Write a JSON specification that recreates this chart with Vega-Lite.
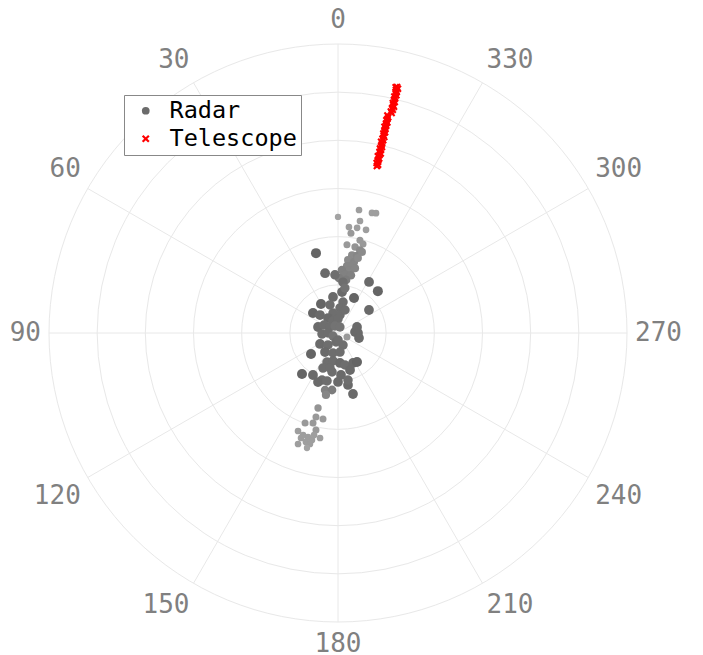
{
  "$schema": "https://vega.github.io/schema/vega-lite/v6.json",
  "width": 578,
  "height": 578,
  "autosize": "none",
  "padding": {"left": 49, "top": 44, "right": 76, "bottom": 33},
  "background": "#ffffff",
  "config": {"view": {"stroke": null}},
  "resolve": {"scale": {"size": "independent"}},
  "datasets": {
    "rings": [{"r": 10}, {"r": 20}, {"r": 30}, {"r": 40}, {"r": 50}, {"r": 60}],
    "angles": [{"angle": 0}, {"angle": 30}, {"angle": 60}, {"angle": 90}, {"angle": 120}, {"angle": 150}, {"angle": 180}, {"angle": 210}, {"angle": 240}, {"angle": 270}, {"angle": 300}, {"angle": 330}],
    "radar": [
      {"r": 25.9, "theta": 350.3, "snr": 5}, {"r": 25.9, "theta": 344.2, "snr": 5}, {"r": 26.1, "theta": 342.4, "snr": 5},
      {"r": 24.1, "theta": 0.0, "snr": 4}, {"r": 23.7, "theta": 348.9, "snr": 5}, {"r": 22.1, "theta": 354.1, "snr": 5},
      {"r": 22.2, "theta": 349.7, "snr": 5}, {"r": 22.2, "theta": 344.8, "snr": 5}, {"r": 20.9, "theta": 352.6, "snr": 6},
      {"r": 19.8, "theta": 346.7, "snr": 6}, {"r": 19.2, "theta": 344.3, "snr": 6}, {"r": 18.4, "theta": 354.2, "snr": 6},
      {"r": 18.2, "theta": 348.8, "snr": 7}, {"r": 17.8, "theta": 345.2, "snr": 9}, {"r": 16.4, "theta": 349.8, "snr": 9},
      {"r": 16.5, "theta": 346.1, "snr": 10}, {"r": 15.3, "theta": 352.2, "snr": 9}, {"r": 15.1, "theta": 347.3, "snr": 10},
      {"r": 14.0, "theta": 352.3, "snr": 10}, {"r": 14.5, "theta": 347.6, "snr": 10}, {"r": 13.1, "theta": 356.4, "snr": 11},
      {"r": 13.3, "theta": 349.2, "snr": 10}, {"r": 12.3, "theta": 353.2, "snr": 11}, {"r": 13.9, "theta": 345.3, "snr": 10},
      {"r": 12.3, "theta": 347.4, "snr": 11}, {"r": 16.11, "theta": 345.1, "snr": 9}, {"r": 17.54, "theta": 343.5, "snr": 9},
      {"r": 11.13, "theta": 351.4, "snr": 12}, {"r": 11.42, "theta": 359.0, "snr": 12},
      {"r": 16.11, "theta": 165.1, "snr": 7}, {"r": 18.03, "theta": 165.3, "snr": 6}, {"r": 18.12, "theta": 170.1, "snr": 6},
      {"r": 19.9, "theta": 159.9, "snr": 6}, {"r": 19.39, "theta": 164.5, "snr": 6}, {"r": 21.97, "theta": 157.8, "snr": 5},
      {"r": 20.65, "theta": 167.2, "snr": 6}, {"r": 23.11, "theta": 160.6, "snr": 5}, {"r": 22.47, "theta": 163.9, "snr": 5},
      {"r": 22.86, "theta": 166.3, "snr": 5}, {"r": 22.11, "theta": 170.3, "snr": 5}, {"r": 24.49, "theta": 160.2, "snr": 5},
      {"r": 23.58, "theta": 163.6, "snr": 5}, {"r": 23.77, "theta": 165.8, "snr": 5}, {"r": 24.73, "theta": 164.9, "snr": 4},
      {"r": 22.39, "theta": 161.1, "snr": 5}, {"r": 21.76, "theta": 166.8, "snr": 5},
      {"r": 12.14, "theta": 167.2, "snr": 11}, {"r": 11.9, "theta": 174.0, "snr": 12}, {"r": 13.11, "theta": 169.0, "snr": 10},
      {"r": 2.04, "theta": 246.0, "snr": 6},
      {"r": 17.2, "theta": 15.4, "snr": 17}, {"r": 12.7, "theta": 12.2, "snr": 16}, {"r": 12.1, "theta": 3.0, "snr": 15},
      {"r": 10.6, "theta": 354.4, "snr": 15}, {"r": 12.4, "theta": 328.7, "snr": 16}, {"r": 12.0, "theta": 316.4, "snr": 17},
      {"r": 8.55, "theta": 354.4, "snr": 16}, {"r": 7.55, "theta": 7.9, "snr": 16}, {"r": 7.99, "theta": 335.4, "snr": 17},
      {"r": 6.52, "theta": 350.8, "snr": 15}, {"r": 6.98, "theta": 30.4, "snr": 17}, {"r": 5.21, "theta": 355.4, "snr": 15},
      {"r": 8.01, "theta": 306.6, "snr": 16}, {"r": 6.65, "theta": 51.3, "snr": 17}, {"r": 5.28, "theta": 45.0, "snr": 16},
      {"r": 4.28, "theta": 14.0, "snr": 15}, {"r": 3.76, "theta": 353.7, "snr": 15}, {"r": 3.74, "theta": 33.7, "snr": 16},
      {"r": 2.7, "theta": 22.6, "snr": 15}, {"r": 2.91, "theta": 0.0, "snr": 15}, {"r": 4.33, "theta": 73.3, "snr": 16},
      {"r": 3.35, "theta": 60.3, "snr": 15}, {"r": 2.08, "theta": 53.1, "snr": 15}, {"r": 1.58, "theta": 23.2, "snr": 14},
      {"r": 1.31, "theta": 341.6, "snr": 14}, {"r": 4.14, "theta": 287.5, "snr": 16}, {"r": 3.54, "theta": 273.4, "snr": 16},
      {"r": 3.33, "theta": 93.6, "snr": 15}, {"r": 2.08, "theta": 90.0, "snr": 15}, {"r": 1.21, "theta": 121.0, "snr": 14},
      {"r": 4.15, "theta": 270.0, "snr": 16}, {"r": 4.48, "theta": 256.6, "snr": 16}, {"r": 4.38, "theta": 121.4, "snr": 16},
      {"r": 3.24, "theta": 140.2, "snr": 15}, {"r": 1.91, "theta": 167.5, "snr": 15}, {"r": 2.7, "theta": 202.6, "snr": 15},
      {"r": 7.1, "theta": 127.9, "snr": 17}, {"r": 4.78, "theta": 145.6, "snr": 16}, {"r": 4.28, "theta": 166.0, "snr": 15},
      {"r": 3.97, "theta": 186.0, "snr": 15}, {"r": 6.44, "theta": 159.2, "snr": 15}, {"r": 5.9, "theta": 169.9, "snr": 15},
      {"r": 6.24, "theta": 183.8, "snr": 16}, {"r": 6.8, "theta": 192.3, "snr": 15}, {"r": 6.96, "theta": 206.6, "snr": 16},
      {"r": 7.2, "theta": 213.2, "snr": 17}, {"r": 7.91, "theta": 156.8, "snr": 15}, {"r": 8.19, "theta": 171.3, "snr": 15},
      {"r": 8.08, "theta": 198.0, "snr": 16}, {"r": 11.33, "theta": 138.7, "snr": 17}, {"r": 10.15, "theta": 149.2, "snr": 16},
      {"r": 10.31, "theta": 161.2, "snr": 15}, {"r": 10.99, "theta": 157.8, "snr": 16}, {"r": 10.22, "theta": 167.1, "snr": 15},
      {"r": 10.17, "theta": 180.0, "snr": 16}, {"r": 10.99, "theta": 190.9, "snr": 16}, {"r": 13.04, "theta": 193.8, "snr": 16},
      {"r": 6.05, "theta": 16.0, "snr": 15}, {"r": 4.99, "theta": 343.1, "snr": 15}, {"r": 1.45, "theta": 180.0, "snr": 15},
      {"r": 7.45, "theta": 167.1, "snr": 15}, {"r": 8.74, "theta": 184.1, "snr": 16}, {"r": 9.45, "theta": 351.2, "snr": 14},
      {"r": 9.98, "theta": 192.0, "snr": 15}
    ],
    "telescope": [
      {"r": 35.6, "theta": 346.9, "series": "Telescope"}, {"r": 35.9, "theta": 346.6, "series": "Telescope"},
      {"r": 36.2, "theta": 347.2, "series": "Telescope"}, {"r": 36.5, "theta": 346.8, "series": "Telescope"},
      {"r": 36.9, "theta": 347.0, "series": "Telescope"}, {"r": 37.2, "theta": 346.7, "series": "Telescope"},
      {"r": 37.6, "theta": 347.3, "series": "Telescope"}, {"r": 37.9, "theta": 346.9, "series": "Telescope"},
      {"r": 38.3, "theta": 346.6, "series": "Telescope"}, {"r": 38.6, "theta": 347.1, "series": "Telescope"},
      {"r": 39.0, "theta": 346.8, "series": "Telescope"}, {"r": 39.3, "theta": 347.2, "series": "Telescope"},
      {"r": 39.7, "theta": 346.7, "series": "Telescope"}, {"r": 40.0, "theta": 347.0, "series": "Telescope"},
      {"r": 40.4, "theta": 346.9, "series": "Telescope"}, {"r": 40.7, "theta": 347.3, "series": "Telescope"},
      {"r": 41.1, "theta": 346.8, "series": "Telescope"}, {"r": 41.4, "theta": 347.1, "series": "Telescope"},
      {"r": 41.8, "theta": 346.7, "series": "Telescope"}, {"r": 42.1, "theta": 347.0, "series": "Telescope"},
      {"r": 42.5, "theta": 347.2, "series": "Telescope"}, {"r": 42.8, "theta": 346.8, "series": "Telescope"},
      {"r": 43.2, "theta": 347.1, "series": "Telescope"}, {"r": 43.5, "theta": 346.9, "series": "Telescope"},
      {"r": 43.9, "theta": 347.3, "series": "Telescope"}, {"r": 44.2, "theta": 346.9, "series": "Telescope"},
      {"r": 44.6, "theta": 347.1, "series": "Telescope"}, {"r": 44.9, "theta": 346.8, "series": "Telescope"},
      {"r": 45.3, "theta": 347.2, "series": "Telescope"}, {"r": 45.6, "theta": 347.0, "series": "Telescope"},
      {"r": 46.0, "theta": 346.9, "series": "Telescope"}, {"r": 46.3, "theta": 347.2, "series": "Telescope"},
      {"r": 47.0, "theta": 346.3, "series": "Telescope"}, {"r": 47.3, "theta": 346.6, "series": "Telescope"},
      {"r": 47.7, "theta": 346.2, "series": "Telescope"}, {"r": 48.0, "theta": 346.5, "series": "Telescope"},
      {"r": 48.4, "theta": 346.1, "series": "Telescope"}, {"r": 48.7, "theta": 346.4, "series": "Telescope"},
      {"r": 49.1, "theta": 346.6, "series": "Telescope"}, {"r": 49.4, "theta": 346.2, "series": "Telescope"},
      {"r": 49.8, "theta": 346.5, "series": "Telescope"}, {"r": 50.1, "theta": 346.3, "series": "Telescope"},
      {"r": 50.5, "theta": 346.6, "series": "Telescope"}, {"r": 50.8, "theta": 346.2, "series": "Telescope"},
      {"r": 51.2, "theta": 346.5, "series": "Telescope"}, {"r": 51.5, "theta": 346.3, "series": "Telescope"},
      {"r": 51.9, "theta": 346.6, "series": "Telescope"}, {"r": 52.2, "theta": 346.2, "series": "Telescope"},
      {"r": 52.5, "theta": 346.5, "series": "Telescope"}, {"r": 52.4, "theta": 346.8, "series": "Telescope"}
    ]
  },
  "layer": [
    {
      "data": {"name": "rings"},
      "transform": [{"calculate": "0", "as": "origin"}],
      "mark": {"type": "point", "shape": "circle", "filled": false, "stroke": "#e8e8e8", "strokeWidth": 1, "opacity": 1},
      "encoding": {
        "x": {"field": "origin", "type": "quantitative", "scale": {"domain": [-60, 60], "nice": false}, "axis": null},
        "y": {"field": "origin", "type": "quantitative", "scale": {"domain": [-60, 60], "nice": false}, "axis": null},
        "size": {"field": "r", "type": "quantitative", "scale": {"type": "pow", "exponent": 2, "domain": [0, 60], "range": [0, 334084]}, "legend": null}
      }
    },
    {
      "data": {"name": "angles"},
      "transform": [
        {"calculate": "-60*sin(datum.angle*PI/180)", "as": "east"},
        {"calculate": "60*cos(datum.angle*PI/180)", "as": "north"},
        {"calculate": "0", "as": "origin"}
      ],
      "mark": {"type": "rule", "stroke": "#e8e8e8", "strokeWidth": 1},
      "encoding": {
        "x": {"field": "origin", "type": "quantitative", "scale": {"domain": [-60, 60], "nice": false}, "axis": null},
        "y": {"field": "origin", "type": "quantitative", "scale": {"domain": [-60, 60], "nice": false}, "axis": null},
        "x2": {"field": "east"},
        "y2": {"field": "north"}
      }
    },
    {
      "data": {"name": "angles"},
      "transform": [
        {"calculate": "(datum.angle + 90)*PI/180", "as": "a"},
        {"calculate": "cos(datum.a)", "as": "cx"},
        {"calculate": "sin(datum.a)", "as": "sy"},
        {"calculate": "61.66*datum.cx", "as": "east"},
        {"calculate": "61.66*datum.sy + (datum.sy > 0.1 ? 3.32 : datum.sy < -0.1 ? -3.0 : 0)", "as": "north"},
        {"calculate": "datum.cx > 0.1 ? 'left' : datum.cx < -0.1 ? 'right' : 'center'", "as": "side"}
      ],
      "layer": [
        {
          "transform": [{"filter": "datum.side == 'center'"}],
          "mark": {"type": "text", "font": "DejaVu Sans Mono", "fontSize": 26, "color": "#808080", "align": "center", "baseline": "middle"},
          "encoding": {
            "x": {"field": "east", "type": "quantitative", "scale": {"domain": [-60, 60], "nice": false}, "axis": null},
            "y": {"field": "north", "type": "quantitative", "scale": {"domain": [-60, 60], "nice": false}, "axis": null},
            "text": {"field": "angle", "type": "nominal"}
          }
        },
        {
          "transform": [{"filter": "datum.side == 'left'"}],
          "mark": {"type": "text", "font": "DejaVu Sans Mono", "fontSize": 26, "color": "#808080", "align": "left", "baseline": "middle"},
          "encoding": {
            "x": {"field": "east", "type": "quantitative", "scale": {"domain": [-60, 60], "nice": false}, "axis": null},
            "y": {"field": "north", "type": "quantitative", "scale": {"domain": [-60, 60], "nice": false}, "axis": null},
            "text": {"field": "angle", "type": "nominal"}
          }
        },
        {
          "transform": [{"filter": "datum.side == 'right'"}],
          "mark": {"type": "text", "font": "DejaVu Sans Mono", "fontSize": 26, "color": "#808080", "align": "right", "baseline": "middle"},
          "encoding": {
            "x": {"field": "east", "type": "quantitative", "scale": {"domain": [-60, 60], "nice": false}, "axis": null},
            "y": {"field": "north", "type": "quantitative", "scale": {"domain": [-60, 60], "nice": false}, "axis": null},
            "text": {"field": "angle", "type": "nominal"}
          }
        }
      ]
    },
    {
      "data": {"name": "radar"},
      "transform": [
        {"calculate": "-datum.r*sin(datum.theta*PI/180)", "as": "east"},
        {"calculate": "datum.r*cos(datum.theta*PI/180)", "as": "north"}
      ],
      "mark": {"type": "point", "shape": "circle", "filled": true, "opacity": 1, "strokeWidth": 0},
      "encoding": {
        "x": {"field": "east", "type": "quantitative", "scale": {"domain": [-60, 60], "nice": false}, "axis": null},
        "y": {"field": "north", "type": "quantitative", "scale": {"domain": [-60, 60], "nice": false}, "axis": null},
        "fill": {"field": "snr", "type": "quantitative", "scale": {"domain": [4, 17], "range": ["#a3a3a3", "#656565"]}, "legend": null},
        "size": {"field": "snr", "type": "quantitative", "scale": {"domain": [4, 17], "range": [40, 100]}, "legend": null}
      }
    },
    {
      "data": {"name": "telescope"},
      "transform": [
        {"calculate": "-datum.r*sin(datum.theta*PI/180)", "as": "east"},
        {"calculate": "datum.r*cos(datum.theta*PI/180)", "as": "north"}
      ],
      "mark": {"type": "point", "filled": true, "opacity": 1, "size": 56, "strokeWidth": 0},
      "encoding": {
        "x": {"field": "east", "type": "quantitative", "scale": {"domain": [-60, 60], "nice": false}, "axis": null},
        "y": {"field": "north", "type": "quantitative", "scale": {"domain": [-60, 60], "nice": false}, "axis": null},
        "color": {
          "field": "series", "type": "nominal",
          "scale": {"domain": ["Radar", "Telescope"], "range": ["#6b6b6b", "#ff0000"]},
          "legend": {
            "title": null, "orient": "none", "legendX": 75, "legendY": 51,
            "labelFont": "DejaVu Sans Mono", "labelFontSize": 23.5, "labelColor": "#000000",
            "fillColor": "#ffffff", "strokeColor": "#888888", "padding": 4,
            "symbolSize": 60, "symbolOffset": 6, "labelOffset": 12, "rowPadding": 3,
            "symbolStrokeWidth": 0
          }
        },
        "shape": {
          "field": "series", "type": "nominal",
          "scale": {"domain": ["Radar", "Telescope"], "range": ["circle", "M-1,-0.6L-0.6,-1L0,-0.4L0.6,-1L1,-0.6L0.4,0L1,0.6L0.6,1L0,0.4L-0.6,1L-1,0.6L-0.4,0Z"]}
        }
      }
    }
  ]
}
